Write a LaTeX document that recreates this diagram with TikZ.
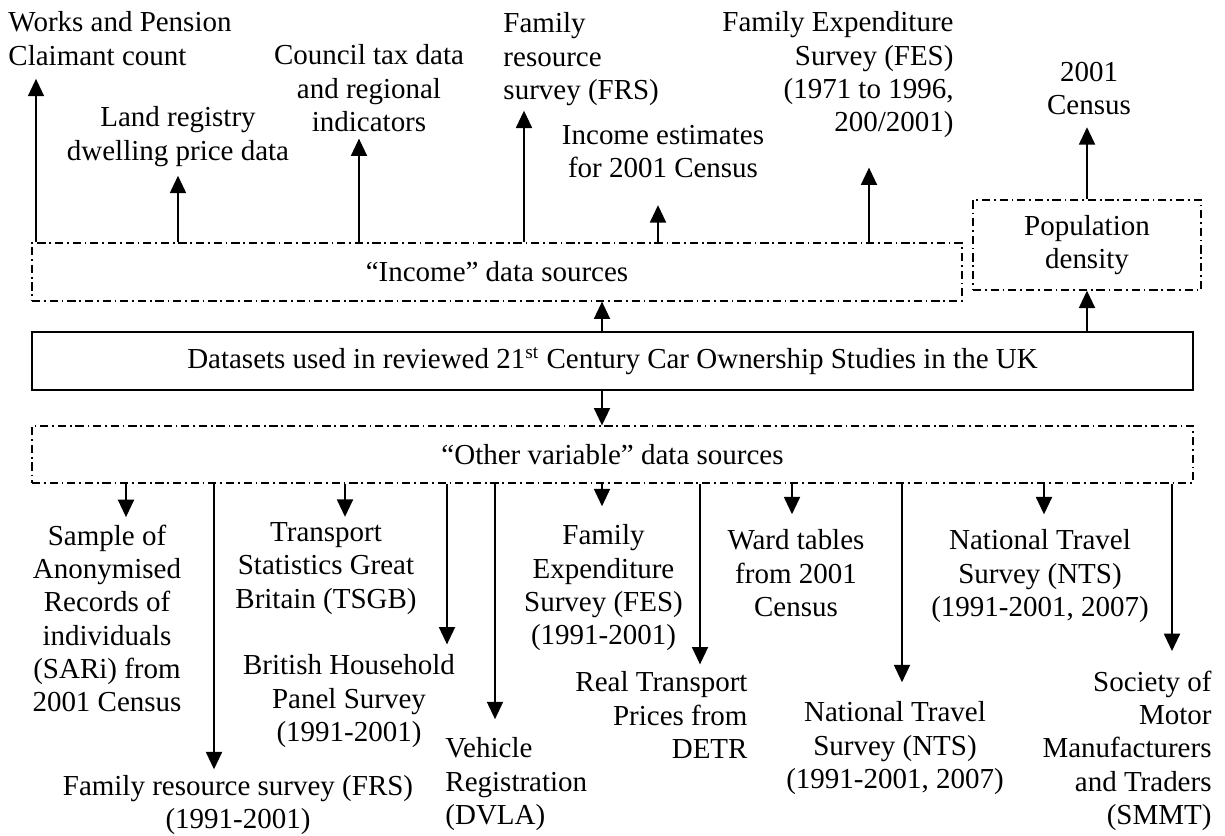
\documentclass[tikz,border=0pt]{standalone}
\usepackage{fontspec}
\setmainfont{Liberation Serif}
\usetikzlibrary{arrows.meta}
\newcommand*{\wideW}{480.7pt}
\newcommand*{\incW }{385pt}
\newcommand*{\boxH }{24pt}
\newcommand*{\popW }{94.4pt}
\newcommand*{\popH }{37.3pt}

\begin{document}
\begin{tikzpicture}[x=0.414pt, y=-0.414pt, font=\fontsize{12}{13.8}\selectfont,
        lbl/.style = {inner sep=0pt, align=center},
        arr/.style = {line width=0.85pt, -{Triangle[width=6.6pt,length=7.2pt]}},
        dashdot/.style = {draw, line width=0.5pt, dash pattern=on 3.4pt off 1.6pt on 0.7pt off 1.6pt, inner sep=0pt}]
    \useasboundingbox (0,0) rectangle (1225,836);
    % central boxes
    \node [draw, line width=0.6pt, minimum width=\wideW, minimum height=\boxH] (main) at (612.5,361) {Datasets used in reviewed 21\textsuperscript{st} Century Car Ownership Studies in the UK};
    \node [dashdot, minimum width=\incW, minimum height=\boxH] (income) at (497,272) {“Income” data sources};
    \node [dashdot, minimum width=\popW, minimum height=\popH, align=center] (pop) at (1087,245) {Population\\density};
    \node [dashdot, minimum width=\wideW, minimum height=23.6pt] (other) at (612.5,454.5) {“Other variable” data sources};
    \draw [arr] (main.north -| 602,0) -- (income.south -| 602,0);
    \draw [arr] (main.north -| 1087,0) -- (pop.south -| 1087,0);
    \draw [arr] (main.south -| 602,0) -- (other.north -| 602,0);
    % income sources
    \node [lbl, anchor=west, align=left] (works) at (8,38.7) {Works and Pension\\Claimant count};
    \node [lbl] (land) at (178,136.7) {Land registry\\dwelling price data};
    \node [lbl] (council) at (369,88.3) {Council tax data\\and regional\\indicators};
    \node [lbl, anchor=west, align=left] (frsTop) at (503,59.3) {Family\\resource\\survey (FRS)};
    \node [lbl] (incEst) at (663,151.7) {Income estimates\\for 2001 Census};
    \node [lbl, anchor=east, align=right] (fesTop) at (954,75) {Family Expenditure\\Survey (FES)\\(1971 to 1996,\\200/2001)};
    \node [lbl] (census) at (1089,88.7) {2001\\Census};
    \draw [arr, shorten >=5.3pt] (income.north -| 36,0) -- (works.south -| 36,0);
    \draw [arr, shorten >=3.6pt] (income.north -| 178,0) -- (land.south -| 178,0);
    \draw [arr, shorten >=2.6pt] (income.north -| 359,0) -- (council.south -| 359,0);
    \draw [arr, shorten >=1.8pt] (income.north -| 524,0) -- (frsTop.south -| 524,0);
    \draw [arr, shorten >=11pt] (income.north -| 658,0) -- (incEst.south -| 658,0);
    \draw [arr, shorten >=12pt] (income.north -| 869,0) -- (fesTop.south -| 869,0);
    \draw [arr, shorten >=4.8pt] (pop.north) -- (census.south -| pop.north);
    % other variable sources
    \node [lbl] (sari) at (107,618.3) {Sample of\\Anonymised\\Records of\\individuals\\(SARi) from\\2001 Census};
    \node [lbl] (frsLow) at (238,804.7) {Family resource survey (FRS)\\(1991-2001)};
    \node [lbl] (tsgb) at (326,568.3) {Transport\\Statistics Great\\Britain (TSGB)};
    \node [lbl] (bhps) at (349,701.3) {British Household\\Panel Survey\\(1991-2001)};
    \node [lbl, anchor=west, align=left] (dvla) at (445,784.3) {Vehicle\\Registration\\(DVLA)};
    \node [lbl] (fesLow) at (603.5,588) {Family\\Expenditure\\Survey (FES)\\(1991-2001)};
    \node [lbl, anchor=east, align=right] (detr) at (748,715.3) {Real Transport\\Prices from\\DETR};
    \node [lbl] (ward) at (796,573.3) {Ward tables\\from 2001\\Census};
    \node [lbl] (ntsLow) at (895,748.3) {National Travel\\Survey (NTS)\\(1991-2001, 2007)};
    \node [lbl] (ntsHigh) at (1040,576.3) {National Travel\\Survey (NTS)\\(1991-2001, 2007)};
    \node [lbl, anchor=east, align=right] (smmt) at (1212,750.6) {Society of\\Motor\\Manufacturers\\and Traders\\(SMMT)};
    \draw [arr, shorten >=2.9pt] (other.south -| 126,0) -- (sari.north -| 126,0);
    \draw [arr, shorten >=2.1pt] (other.south -| 214,0) -- (frsLow.north -| 214,0);
    \draw [arr, shorten >=2.1pt] (other.south -| 345,0) -- (tsgb.north -| 345,0);
    \draw [arr, shorten >=4.1pt] (other.south -| 447,0) -- (bhps.north -| 447,0);
    \draw [arr, shorten >=7.5pt] (other.south -| 495,0) -- (dvla.north -| 495,0);
    \draw [arr, shorten >=7.5pt] (other.south -| 602,0) -- (fesLow.north -| 602,0);
    \draw [arr, shorten >=2.9pt] (other.south -| 700,0) -- (detr.north -| 700,0);
    \draw [arr, shorten >=6.2pt] (other.south -| 792,0) -- (ward.north -| 792,0);
    \draw [arr, shorten >=7.9pt] (other.south -| 902,0) -- (ntsLow.north -| 902,0);
    \draw [arr, shorten >=6.2pt] (other.south -| 1044,0) -- (ntsHigh.north -| 1044,0);
    \draw [arr, shorten >=7.9pt] (other.south -| 1172,0) -- (smmt.north -| 1172,0);
\end{tikzpicture}
\end{document}
